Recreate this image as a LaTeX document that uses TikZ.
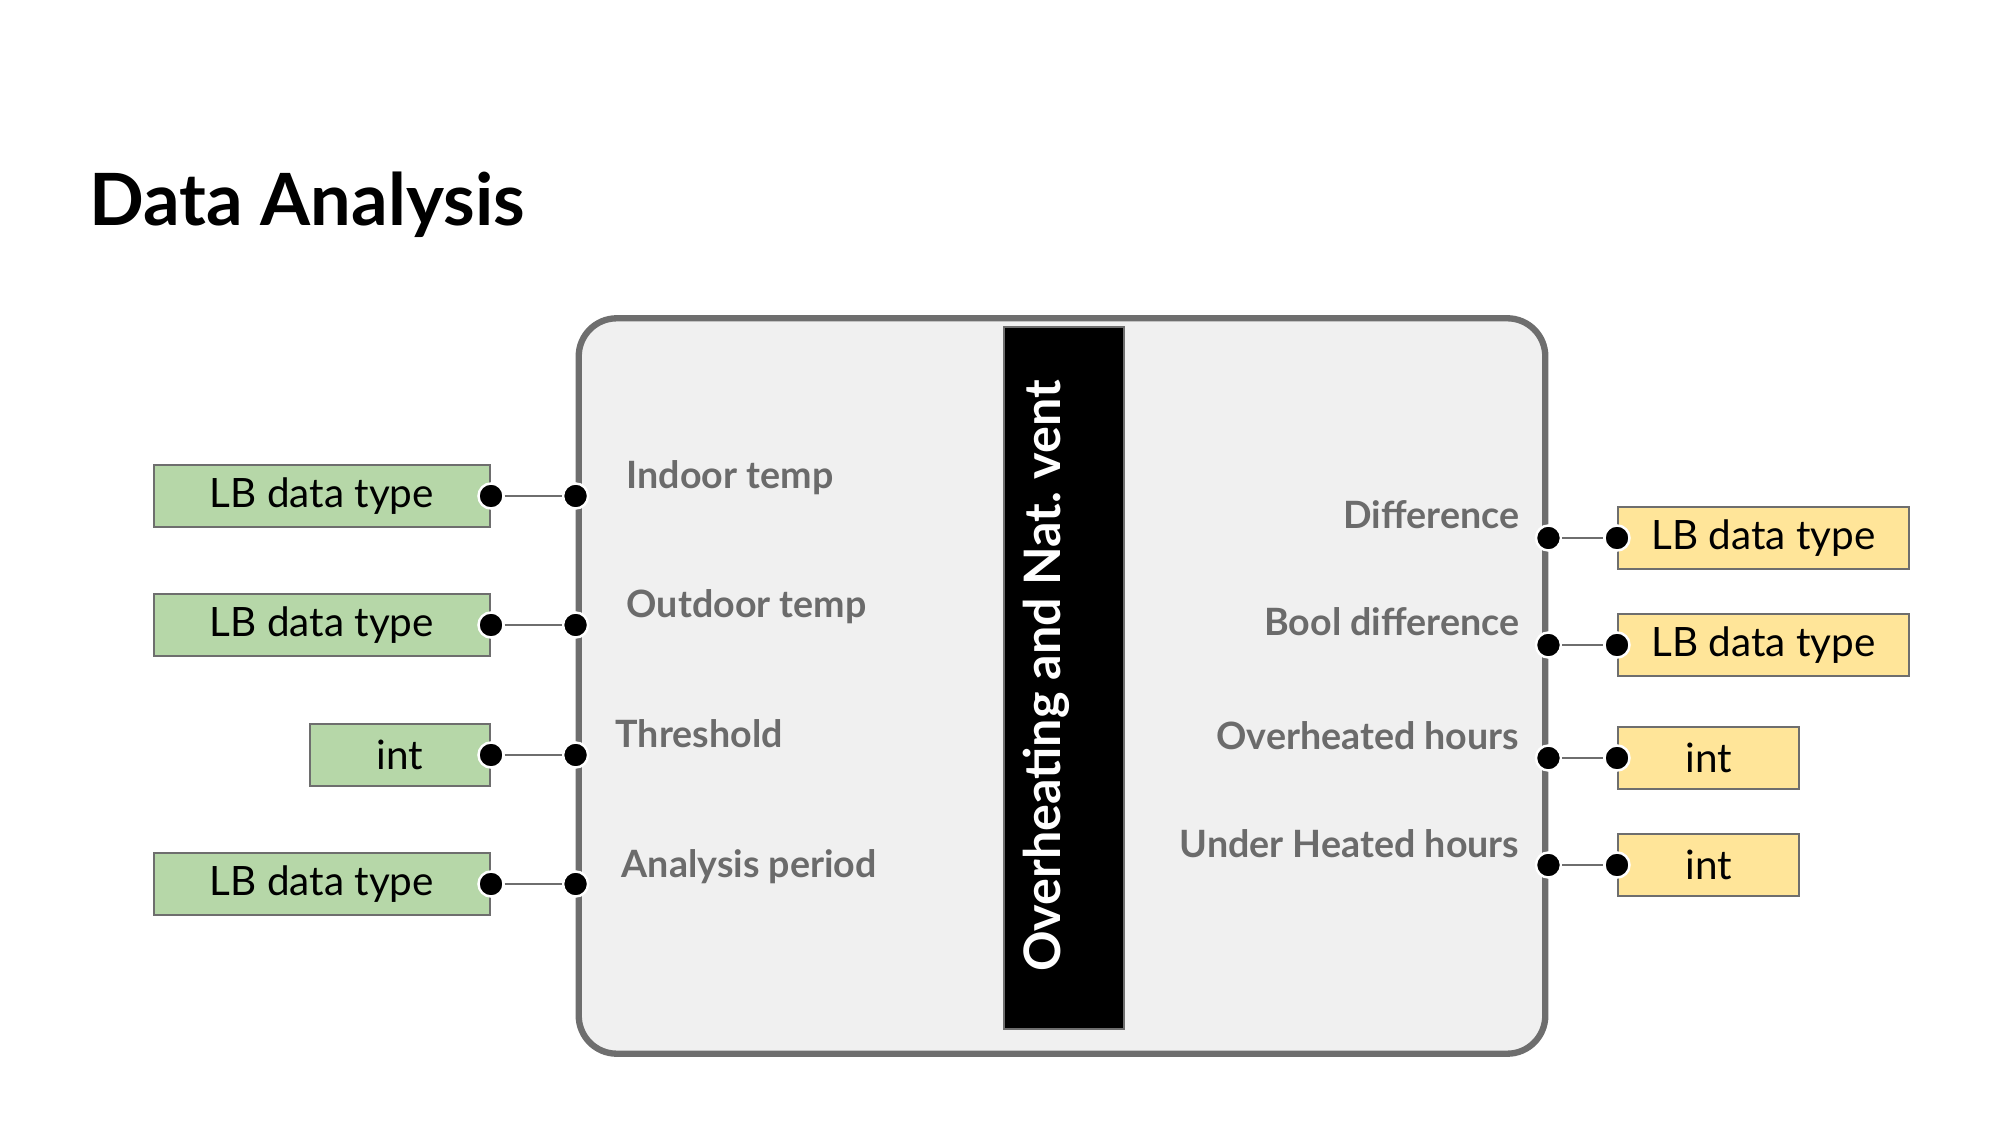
\documentclass[tikz,border=0pt]{standalone}
\usepackage{fontspec}
\setmainfont{Lato}
\usetikzlibrary{positioning}
\definecolor{blockgray}{HTML}{F0F0F0}
\definecolor{edgegray}{HTML}{6E6E6E}
\definecolor{labelgray}{HTML}{6B6B6B}
\definecolor{ingreen}{HTML}{B6D7A8}
\definecolor{outyellow}{HTML}{FFE599}

\begin{document}
\begin{tikzpicture}[x=0.01cm,y=-0.01cm,
  inbox/.style={draw=edgegray,line width=0.6pt,fill=ingreen,minimum height=0.62cm,
    inner sep=0,font=\fontsize{11.5}{13}\selectfont},
  outbox/.style={inbox,fill=outyellow},
  port/.style={circle,fill=black,draw=white,line width=0.7pt,minimum size=0.25cm,inner sep=0},
  wire/.style={draw=edgegray,line width=0.6pt},
  lbl/.style={text=labelgray,inner sep=0,font=\bfseries\fontsize{10.7}{12}\selectfont}]
\useasboundingbox (0,0) rectangle (2000,1125);

\node[anchor=base west,inner sep=0,font=\bfseries\fontsize{20.5}{24}\selectfont] (title) at (89,226) {Data Analysis};

% component
\node[draw=edgegray,fill=blockgray,line width=1.8pt,rounded corners=0.38cm,
  minimum width=9.66cm,minimum height=7.35cm] (block) at (1062,686) {};
\node[draw=edgegray,fill=black,line width=0.6pt,minimum width=1.2cm,
  minimum height=7.02cm] (bar) at (1064,678) {};
\node[rotate=90,text=white,inner sep=0,font=\bfseries\fontsize{14.3}{16}\selectfont]
  (name) at (1046,676) {Overheating and Nat.\ vent};

% inputs
\node[inbox,minimum width=3.36cm,anchor=east] (in1) at (491,496) {LB data type};
\node[inbox,minimum width=3.36cm,anchor=east] (in2) at (491,625) {LB data type};
\node[inbox,minimum width=1.80cm,anchor=east] (in3) at (491,755) {int};
\node[inbox,minimum width=3.36cm,anchor=east] (in4) at (491,884) {LB data type};

\node[lbl,anchor=base west] (lin1) at (626,489) {Indoor temp};
\node[lbl,anchor=base west] (lin2) at (626,618) {Outdoor temp};
\node[lbl,anchor=base west] (lin3) at (615,748) {Threshold};
\node[lbl,anchor=base west] (lin4) at (621,877) {Analysis period};

% outputs
\node[outbox,minimum width=2.91cm,anchor=west] (out1) at (1617,538) {LB data type};
\node[outbox,minimum width=2.91cm,anchor=west] (out2) at (1617,645) {LB data type};
\node[outbox,minimum width=1.81cm,anchor=west] (out3) at (1617,758) {int};
\node[outbox,minimum width=1.81cm,anchor=west] (out4) at (1617,865) {int};

\node[lbl,anchor=base east] (lout1) at (1520,529) {Difference};
\node[lbl,anchor=base east] (lout2) at (1520,636) {Bool difference};
\node[lbl,anchor=base east] (lout3) at (1520,749) {Overheated hours};
\node[lbl,anchor=base east] (lout4) at (1520,857) {Under Heated hours};

% ports
\foreach \i in {1,...,4}{
  \node[port] (a\i) at (in\i.east) {};
  \node[port] (b\i) at (block.west |- in\i) {};
  \draw[wire] (a\i) -- (b\i);
  \node[port] (c\i) at (block.east |- out\i) {};
  \node[port] (d\i) at (out\i.west) {};
  \draw[wire] (c\i) -- (d\i);
}
\end{tikzpicture}
\end{document}
